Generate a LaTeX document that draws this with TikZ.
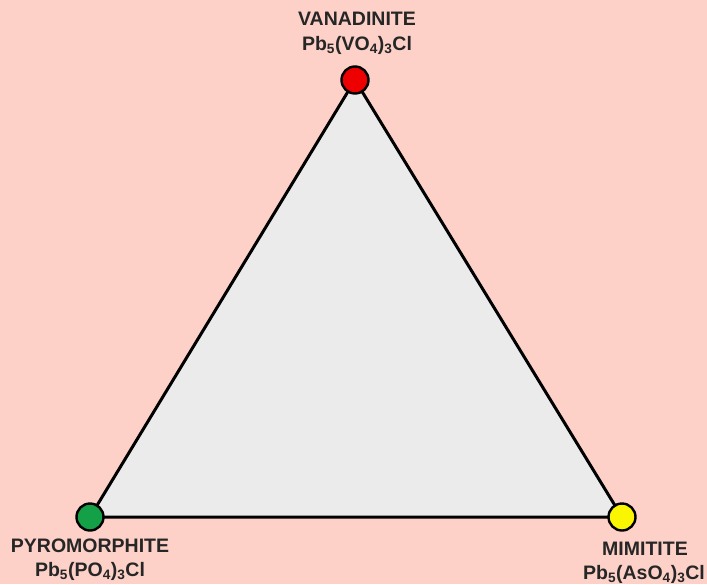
\documentclass[tikz,border=0pt]{standalone}
\usepackage{fontspec}
\setmainfont{Liberation Sans}
\usepackage{xcolor}
\definecolor{bgpink}{RGB}{253,208,200}
\definecolor{facegray}{RGB}{235,235,235}
\definecolor{vred}{RGB}{238,0,0}
\definecolor{pgreen}{RGB}{20,160,70}
\definecolor{myellow}{RGB}{250,245,0}
\usetikzlibrary{positioning}

\tikzset{
  corner/.style={circle, draw=black, line width=2.4pt, minimum size=27pt, inner sep=0pt},
  mineral/.style={font=\fontsize{19.5}{22}\selectfont\bfseries, text=black!85, align=center, inner sep=0pt}
}

\begin{document}
\begin{tikzpicture}[x=1pt, y=-1pt]
  % background
  \fill[bgpink] (0,0) rectangle (707,584);
  \useasboundingbox (0,0) rectangle (707,584);

  % corners
  \coordinate (V) at (355,80);
  \coordinate (P) at (90,517);
  \coordinate (M) at (622,517);

  % triangle
  \draw[fill=facegray, line width=3pt, line join=round] (V) -- (P) -- (M) -- cycle;

  \node[corner, fill=vred] (van) at (V) {};
  \node[corner, fill=pgreen] (pyr) at (P) {};
  \node[corner, fill=myellow] (mim) at (M) {};

  % labels
  \node[mineral] (vanname) at (357,19) {VANADINITE};
  \node[mineral] (vanform) at (357,45) {Pb\textsubscript{5}(VO\textsubscript{4})\textsubscript{3}Cl};
  \node[mineral] (pyrname) at (90,546) {PYROMORPHITE};
  \node[mineral] (pyrform) at (90,571) {Pb\textsubscript{5}(PO\textsubscript{4})\textsubscript{3}Cl};
  \node[mineral] (mimname) at (645,549) {MIMITITE};
  \node[mineral] (mimform) at (644,574) {Pb\textsubscript{5}(AsO\textsubscript{4})\textsubscript{3}Cl};
\end{tikzpicture}
\end{document}
